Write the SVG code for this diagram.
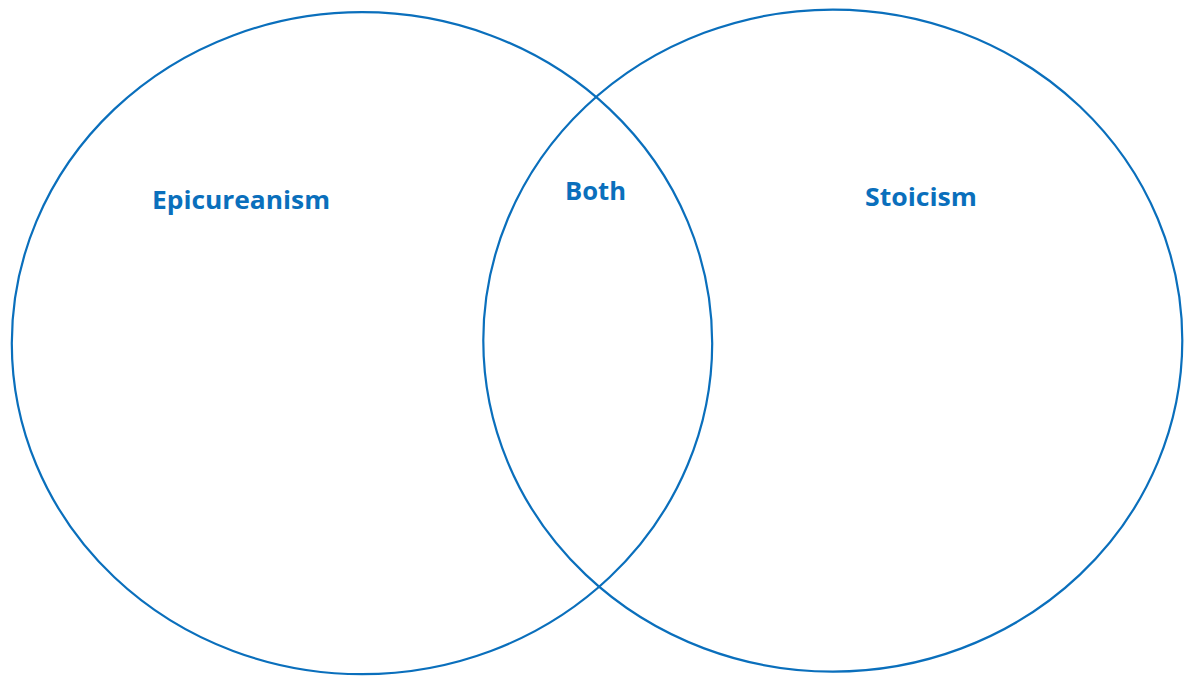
<svg xmlns="http://www.w3.org/2000/svg" width="1184" height="677" viewBox="0 0 1184 677">
<style>
.c{fill:none;stroke:#0a6fbc;stroke-width:2.2}
.t{font-family:"Open Sans",Lato,sans-serif;font-weight:bold;font-size:25px;fill:#0a6fbc;text-anchor:middle}
</style>
<rect width="1184" height="677" fill="#fff"/>
<g id="epicureanism">
<ellipse class="c" cx="362" cy="343.2" rx="350.2" ry="331"/>
<text class="t" x="241" y="208.5" textLength="178" lengthAdjust="spacingAndGlyphs">Epicureanism</text>
</g>
<g id="stoicism">
<ellipse class="c" cx="832.8" cy="340.6" rx="349.5" ry="331"/>
<text class="t" x="921" y="205.5" textLength="112" lengthAdjust="spacingAndGlyphs">Stoicism</text>
</g>
<g id="both">
<text class="t" x="595.5" y="199.5" textLength="61" lengthAdjust="spacingAndGlyphs">Both</text>
</g>
<g id="connectors"/>
</svg>
